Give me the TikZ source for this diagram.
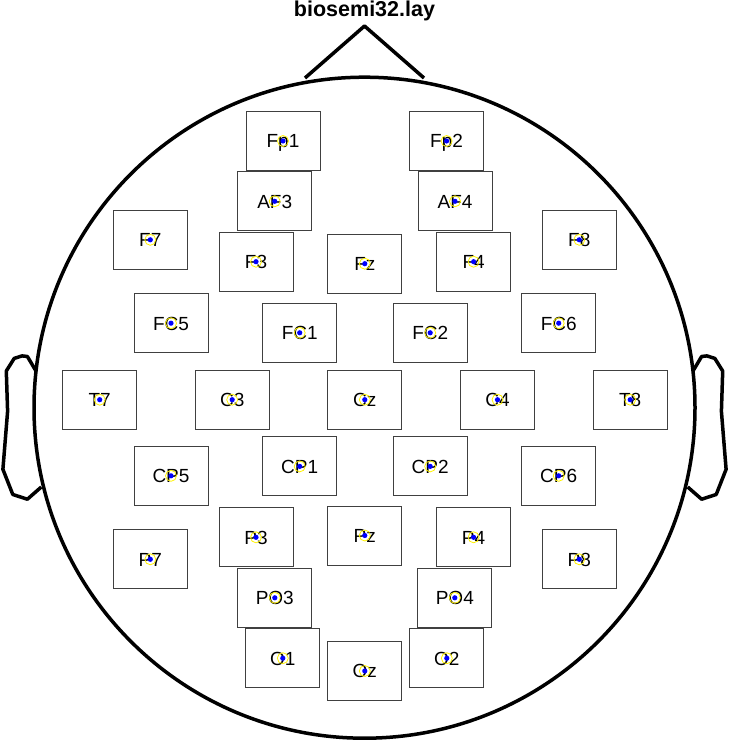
\documentclass[tikz,border=0pt]{standalone}
\usepackage{fontspec}
\setmainfont{Liberation Sans}
\begin{document}
\begin{tikzpicture}[x=1pt,y=-1pt,
    head/.style={line width=3.5pt, line join=round},
    elbox/.style={draw=black!75, line width=1pt, minimum width=74pt, minimum height=59pt,
                  inner sep=0pt, text height=13.6pt, text depth=0pt}]
    \fontsize{19}{19}\selectfont
    \useasboundingbox (0,0) rectangle (730,741);
    \coordinate (c) at (364.5,407.7);
    \draw[head] (c) circle (330.5);
    \draw[head] (305,78) -- (364.5,26) -- (424,78);
    \foreach \s in {1,-1}
      \draw[head, shift={(c)}, xscale=\s] (328.5,-36.7) -- (337.1,-51.2) -- (342.4,-51.8)
        -- (350.3,-49.3) -- (358.2,-36.7) -- (356.9,3.6) -- (361.6,61.6)
        -- (351.7,86.8) -- (337.1,91.5) -- (323.2,79.3);

    \node[font=\bfseries\fontsize{21.5}{21.5}\selectfont, anchor=base] (title) at (364.5,17) {biosemi32.lay};

    \foreach \x/\y/\t in
       {283/141/Fp1, 446.6/141/Fp2, 274.7/201.3/AF3, 455/201.3/AF4,
        150.3/239.8/F7, 579.3/239.8/F8, 256/261.7/F3, 473.6/261.7/F4, 364.8/263.7/Fz,
        171/323.2/FC5, 558.7/323.2/FC6, 299.7/332.8/FC1, 430.2/332.8/FC2,
        99.7/399.7/T7, 630.2/399.7/T8, 232.2/399.7/C3, 497.5/399.7/C4, 364.8/399.7/Cz,
        171/475.8/CP5, 558.7/475.8/CP6, 299.7/466.4/CP1, 430.2/466.4/CP2,
        150.3/559.3/P7, 579.3/559.3/P8, 256/537.3/P3, 473.6/537.3/P4, 364.8/535.5/Pz,
        274.8/597.8/PO3, 454.8/597.8/PO4, 282.8/658.2/O1, 446.8/658.2/O2, 364.8/671/Oz} {
        \node[elbox] (\t) at (\x,\y) {\t};
        \draw[yellow, line width=0.8pt] (\t.center) circle (5.5);
        \fill[blue] (\t.center) circle (2.6);
    }
\end{tikzpicture}
\end{document}
